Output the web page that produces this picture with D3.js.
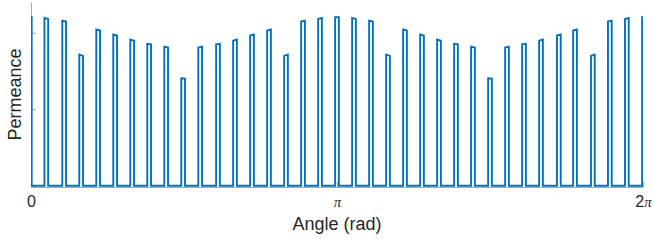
<!DOCTYPE html>
<html>
<head>
<meta charset="utf-8">
<script src="https://cdn.jsdelivr.net/npm/d3@7"></script>
<style>
  html, body { margin: 0; padding: 0; background: #fff; }
  svg { display: block; }
</style>
</head>
<body>
<svg id="chart" width="654" height="242"></svg>
<script>
// ---- data ----
// pulse centre angles in degrees (one pulse every slot, plus the wrapped ones at 0 and 2π)
const pulseCenterDeg = [-0.7, 9, 19.5, 29.5, 39.5, 49.5, 59.5, 69.5, 79.5, 89.5,
  99.5, 110, 120, 130, 140, 150, 160, 170, 180, 190,
  200, 210, 220, 230, 240, 250, 260, 270, 280, 290,
  300, 310.5, 320, 330.5, 340.5, 350.5, 360.6];
// angular width of each pulse (degrees)
const pulseWidthDeg = 2.2;
// permeance at the rising edge and at the falling edge of each pulse
const peakStart = [1.100, 1.096, 1.078, 0.856, 1.020, 0.988, 0.955, 0.927, 0.908, 0.702,
  0.903, 0.923, 0.947, 0.981, 1.014, 0.848, 1.072, 1.089, 1.100, 1.096,
  1.078, 0.856, 1.020, 0.988, 0.955, 0.927, 0.908, 0.702, 0.903, 0.923,
  0.947, 0.981, 1.014, 0.848, 1.072, 1.089, 1.100];
const peakEnd = [1.100, 1.089, 1.072, 0.848, 1.014, 0.981, 0.947, 0.923, 0.903, 0.700,
  0.908, 0.927, 0.955, 0.988, 1.020, 0.856, 1.078, 1.096, 1.100, 1.089,
  1.072, 0.848, 1.014, 0.981, 0.947, 0.923, 0.903, 0.700, 0.908, 0.927,
  0.955, 0.988, 1.020, 0.856, 1.078, 1.096, 1.100];
const baseValue = 0;
const xTickValues = [0, Math.PI, 2 * Math.PI];
const xTickLabels = ["0", "π", "2π"];
const yTickValues = [0, 0.5, 1];
const xLabel = "Angle (rad)";
const yLabel = "Permeance";

(function () {
// ---- layout ----
const svg = d3.select("#chart");
const mLeft = 31, mRight = 643, mTop = 2, mBottom = 187;
const x = d3.scaleLinear().domain([0, 2 * Math.PI]).range([mLeft, mRight]);
const y = d3.scaleLinear().domain([-0.008, 1.2]).range([mBottom, mTop]);
const axisColor = "#a8a8a8";
const textColor = "#262626";
const font = "'Liberation Sans', Arial, Helvetica, sans-serif";

// build the square-wave path from the arrays
const toRad = d => d * Math.PI / 180;
const pts = [];
pulseCenterDeg.forEach((c, i) => {
  const r = toRad(c - pulseWidthDeg / 2), f = toRad(c + pulseWidthDeg / 2);
  pts.push([r, baseValue], [r, peakStart[i]], [f, peakEnd[i]], [f, baseValue]);
});

svg.append("defs").append("clipPath").attr("id", "clip")
  .append("rect").attr("x", mLeft).attr("y", 0).attr("width", mRight - mLeft).attr("height", 200);

// axes
const xAxis = d3.axisBottom(x).tickValues(xTickValues).tickFormat((d, i) => xTickLabels[i])
  .tickSizeInner(-5).tickSizeOuter(0).tickPadding(9);
const gx = svg.append("g").attr("transform", `translate(0,${mBottom})`).call(xAxis);
gx.select(".domain").attr("stroke", axisColor);
gx.selectAll(".tick line").attr("stroke", axisColor);
gx.selectAll(".tick text").attr("fill", textColor).style("font-family", font).style("font-size", "16px");
gx.selectAll(".tick text").each(function(d, i) {
  const t = d3.select(this);
  const lab = xTickLabels[i];
  t.text(null);
  for (const ch of lab) {
    const ts = t.append("tspan").text(ch);
    if (ch === "π") ts.style("font-family", "'Liberation Serif', 'DejaVu Serif', serif").style("font-size", "15px").style("font-style", "italic");
  }
});

const yAxis = d3.axisLeft(y).tickValues(yTickValues).tickFormat("")
  .tickSizeInner(-5).tickSizeOuter(0);
const gy = svg.append("g").attr("transform", `translate(${mLeft},0)`).call(yAxis);
gy.select(".domain").attr("stroke", axisColor);
gy.selectAll(".tick line").attr("stroke", axisColor);

// signal
const line = d3.line().x(d => x(d[0])).y(d => y(d[1]));
svg.append("path").datum(pts)
  .attr("clip-path", "url(#clip)")
  .attr("fill", "none")
  .attr("stroke", "#0072BD")
  .attr("stroke-width", 1.9)
  .attr("stroke-linejoin", "miter")
  .attr("d", line);

// labels
svg.append("text").attr("x", (mLeft + mRight) / 2).attr("y", 230)
  .attr("text-anchor", "middle").attr("fill", textColor)
  .style("font-family", font).style("font-size", "18px").text(xLabel);
svg.append("text").attr("transform", `translate(20.5,${(mTop + mBottom) / 2}) rotate(-90)`)
  .attr("text-anchor", "middle").attr("fill", textColor)
  .style("font-family", font).style("font-size", "18px").text(yLabel);
})();
</script>
</body>
</html>
